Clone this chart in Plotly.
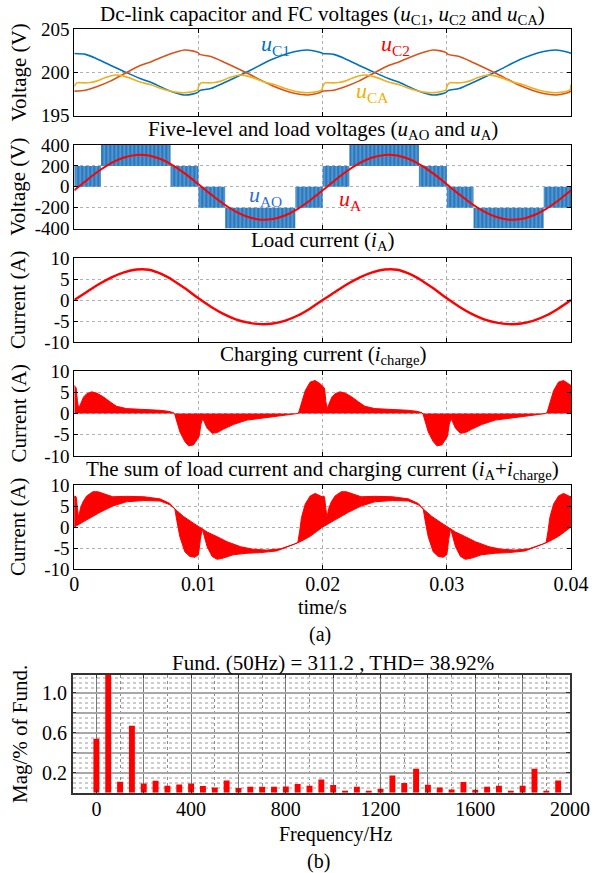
import plotly.graph_objects as go

W, H = 594, 873
FONT = "Liberation Serif"
FS = 21

# ------------------------------------------------------------------ data
# times in ms; waveforms are periodic, one measured cycle each
# Panel 1 - dc-link capacitor voltages (20 ms cycle)
vc_t_ms = [0, 0.9, 1.8, 2.9, 3.95, 5.3, 6.1, 7.65, 8.87, 9.5, 9.95, 10.1, 11.0,
           12.2, 14.1, 15.9, 17.7, 18.8, 19.6, 19.95]
uc1_cycle = [202.2, 202.1, 201.6, 200.85, 200.15, 199.3, 198.9, 197.9, 197.4, 197.5,
             197.7, 197.9, 198.15, 198.9, 200.2, 201.5, 202.4, 202.6, 202.4, 202.25]
uc2_cycle = [197.85, 197.95, 198.35, 199.0, 199.8, 200.8, 201.2, 202.1, 202.6, 202.5,
             202.3, 202.1, 201.85, 201.1, 199.8, 198.5, 197.6, 197.4, 197.6, 197.8]
# flying capacitor voltage (10 ms cycle)
uca_t_ms = [0, 0.2, 0.8, 1.3, 1.8, 2.4, 2.9, 3.5, 4.5, 5.3, 6.1, 7.3, 8.3, 9.2, 9.8, 9.95]
uca_cycle = [198.35, 198.8, 198.8, 198.85, 199.0, 199.35, 199.6, 199.7, 199.35, 198.9,
             198.6, 198.0, 197.7, 197.7, 197.9, 198.0]
uc_end = [202.2, 197.85, 198.6]  # values at t = 0.04 s

# Panel 2 - five-level voltage bands and load voltage (20 ms cycle)
uao_edges_ms = [0, 2.15, 7.75, 10.0, 12.15, 17.8, 20.0]
uao_low = [0, 200, 0, -200, -400, -200]
uao_high = [200, 400, 200, 0, -200, 0]
ua_t_ms = list(range(0, 20))
ua_cycle = [-34, 63, 153, 228, 280, 305, 299, 263, 201, 119, 24, -73, -163, -238,
            -290, -315, -309, -273, -211, -129]
ua_end = -34

# Panel 3 - load current
ia_t_ms = list(range(0, 20))
ia_cycle = [0, 1.9, 3.8, 5.4, 6.6, 7.25, 7.2, 6.2, 4.6, 2.6, 0.4, -1.6, -3.3, -4.6,
            -5.4, -5.75, -5.6, -4.9, -3.7, -2.0]
ia_end = 0

# Panel 4 - charging current envelope
ich_t_ms = [0.0, 0.15, 0.25, 0.35, 0.5, 0.75, 1.0, 1.4, 1.8, 2.35, 2.9, 3.4, 4.2, 5.6,
            6.9, 7.6, 8.0, 8.1, 8.25, 8.5, 8.9, 9.2, 9.6, 9.9, 10.05, 10.2, 10.35, 10.5,
            10.7, 11.1, 11.5, 12.0, 12.8, 13.9, 15.0, 16.3, 17.7, 18.0, 18.1, 18.3, 18.6,
            19.0, 19.4, 19.8, 19.95]
ich_cycle = [6.6, 6.0, 3.0, 1.2, 2.2, 3.9, 4.65, 5.1, 4.8, 3.9, 2.7, 1.7, 1.15, 1.0,
             0.75, 0.5, 0.2, -0.3, -1.6, -4.3, -6.6, -7.6, -7.4, -6.2, -5.4, -2.5, -1.2,
             -2.2, -3.5, -4.65, -4.5, -3.7, -2.6, -1.55, -1.16, -0.78, -0.23, 0.0, 0.5,
             2.3, 5.4, 7.4, 7.75, 7.0, 6.5]
ich_end = 6.6

# Panel 5 - sum current band (upper / lower boundaries)
sum_up_t_ms = [0.0, 0.15, 0.25, 0.35, 0.5, 0.7, 1.0, 1.5, 1.9, 2.5, 3.1, 4.2, 5.6, 6.9,
               7.7, 8.1, 8.8, 9.6, 10.1, 10.7, 11.5, 12.3, 13.4, 14.4, 15.5, 16.6, 17.7,
               18.0, 18.15, 18.3, 18.6, 19.0, 19.4, 19.8, 19.95]
sum_up_cycle = [7.4, 7.2, 4.5, 2.3, 4.5, 6.0, 7.4, 8.4, 8.4, 7.8, 7.2, 7.3, 7.2, 6.7,
                5.6, 4.3, 2.5, 0.9, 0.0, -1.2, -2.3, -3.5, -4.7, -5.3, -5.5, -5.2, -4.1,
                -3.7, -1.0, 2.3, 5.5, 7.4, 8.0, 7.4, 7.2]
sum_lo_t_ms = [0.0, 1.0, 2.07, 3.1, 4.2, 5.6, 6.9, 7.7, 8.1, 8.25, 8.5, 8.9, 9.3, 9.7,
               10.0, 10.15, 10.3, 10.5, 10.7, 11.1, 11.5, 12.0, 12.8, 13.9, 15.0, 16.3,
               17.7, 18.2, 19.0, 19.95]
sum_lo_cycle = [0.0, 1.7, 3.5, 5.0, 6.0, 6.3, 6.2, 5.3, 4.3, 1.6, -2.3, -5.9, -7.0, -7.2,
                -6.6, -3.0, -0.4, -2.5, -4.7, -7.0, -7.7, -7.4, -6.6, -6.25, -6.1, -5.7,
                -4.1, -3.5, -2.2, -0.1]
sum_end = [7.4, 0.0]

# FFT bars
harm_freq = list(range(0, 2000, 50))
harm_mag = [0.54, 100, 0.11, 0.67, 0.093, 0.12, 0.07, 0.083, 0.093, 0.067, 0.053, 0.123,
            0.047, 0.06, 0.06, 0.06, 0.063, 0.087, 0.07, 0.133, 0.077, 0.02, 0.06, 0.02,
            0.04, 0.173, 0.097, 0.24, 0.08, 0.053, 0.033, 0.107, 0.03, 0.06, 0.07, 0.02,
            0.07, 0.24, 0.013, 0.123]

time_ticks = [0, 0.01, 0.02, 0.03, 0.04]
time_ticktext = ["0", "0.01", "0.02", "0.03", "0.04"]


def tile(t_ms, v, period, n, end_v):
    xs, ys = [], []
    for k in range(n):
        xs += [(tt + k * period) / 1000.0 for tt in t_ms]
        ys += list(v)
    xs.append(n * period / 1000.0)
    ys.append(end_v)
    return xs, ys


# ------------------------------------------------------------------ layout helpers
def xdom(a, b):
    return [a / W, b / W]


def ydom(top, bottom):
    return [1 - bottom / H, 1 - top / H]


PX0, PX1 = 74.3, 571.0
panels = [(29.3, 115.7), (145.0, 228.5), (258.0, 342.0), (371.0, 456.0), (485.0, 569.0)]

fig = go.Figure()

# panel 1
for cyc, col, end in [(uc1_cycle, "#0072BD", uc_end[0]), (uc2_cycle, "#D95319", uc_end[1])]:
    x, y = tile(vc_t_ms, cyc, 20, 2, end)
    fig.add_trace(go.Scatter(x=x, y=y, mode="lines",
                             line=dict(color=col, width=1.6, shape="spline", smoothing=0.8),
                             xaxis="x", yaxis="y"))
x, y = tile(uca_t_ms, uca_cycle, 10, 4, uc_end[2])
fig.add_trace(go.Scatter(x=x, y=y, mode="lines",
                         line=dict(color="#EDB120", width=1.6, shape="spline", smoothing=0.6),
                         xaxis="x", yaxis="y"))

# panel 2 - bands
bx, by = [], []
for k in range(2):
    for i in range(len(uao_low)):
        a = (uao_edges_ms[i] + 20 * k) / 1000.0
        b = (uao_edges_ms[i + 1] + 20 * k) / 1000.0
        lo, hi = uao_low[i], uao_high[i]
        bx += [a, b, b, a, a, None]
        by += [lo, lo, hi, hi, lo, None]
fig.add_trace(go.Scatter(x=bx, y=by, mode="lines", fill="toself", line=dict(width=0, color="#2f7fc3"),
                         fillcolor="#2f7fc3",
                         fillpattern=dict(shape="|", fgcolor="#9ccaf0", bgcolor="#2a78bd", size=4, solidity=0.35),
                         xaxis="x2", yaxis="y2"))
x, y = tile(ua_t_ms, ua_cycle, 20, 2, ua_end)
fig.add_trace(go.Scatter(x=x, y=y, mode="lines", line=dict(color="#ff0000", width=2, shape="spline"),
                         xaxis="x2", yaxis="y2"))

# panel 3
x, y = tile(ia_t_ms, ia_cycle, 20, 2, ia_end)
fig.add_trace(go.Scatter(x=x, y=y, mode="lines", line=dict(color="#ff0000", width=2.4, shape="spline"),
                         xaxis="x3", yaxis="y3"))

# panel 4
x, y = tile(ich_t_ms, ich_cycle, 20, 2, ich_end)
fig.add_trace(go.Scatter(x=x, y=y, mode="lines", fill="tozeroy", fillcolor="#ff0000",
                         line=dict(color="#ff0000", width=1), xaxis="x4", yaxis="y4"))

# panel 5
xu, yu = tile(sum_up_t_ms, sum_up_cycle, 20, 2, sum_end[0])
xl, yl = tile(sum_lo_t_ms, sum_lo_cycle, 20, 2, sum_end[1])
fig.add_trace(go.Scatter(x=xu + xl[::-1] + [xu[0]], y=yu + yl[::-1] + [yu[0]], mode="lines", fill="toself",
                         fillcolor="#ff0000", line=dict(color="#ff0000", width=1), xaxis="x5", yaxis="y5"))

# bars
fig.add_trace(go.Bar(x=harm_freq, y=harm_mag, width=25, marker=dict(color="#ff0000", line=dict(width=0)),
                     xaxis="x6", yaxis="y6"))

ytickfont = dict(family=FONT, size=19, color="black")
xtickfont = dict(family=FONT, size=20, color="black")
common = dict(showline=True, linecolor="black", linewidth=1, mirror="ticks", ticks="inside", ticklen=4,
              tickcolor="black", zeroline=False, showgrid=True, gridcolor="#b0b0b0",
              griddash="dot", gridwidth=1, automargin=False)

ycfg = [
    dict(range=[195, 205], tickvals=[195, 200, 205], ticktext=["195", "200", "205"]),
    dict(range=[-400, 400], tickvals=[-400, -200, 0, 200, 400], ticktext=["-400", "-200", "0", "200", "400"]),
    dict(range=[-10, 10], tickvals=[-10, -5, 0, 5, 10], ticktext=["-10", "-5", "0", "5", "10"]),
    dict(range=[-10, 10], tickvals=[-10, -5, 0, 5, 10], ticktext=["-10", "-5", "0", "5", "10"]),
    dict(range=[-10, 10], tickvals=[-10, -5, 0, 5, 10], ticktext=["-10", "-5", "0", "5", "10"]),
]

layout = dict(width=W, height=H, autosize=False, margin=dict(l=0, r=0, t=0, b=0, pad=0, autoexpand=False),
              paper_bgcolor="white", plot_bgcolor="white", showlegend=False,
              font=dict(family=FONT, size=FS, color="black"))
for i, (top, bot) in enumerate(panels):
    n = "" if i == 0 else str(i + 1)
    layout["xaxis" + n] = dict(common, domain=xdom(PX0, PX1), range=[0, 0.04], tickvals=time_ticks,
                               ticktext=time_ticktext, showticklabels=(i == 4), ticklabelstandoff=-3,
                               tickfont=xtickfont, anchor="y" + n)
    layout["yaxis" + n] = dict(common, domain=ydom(top, bot), anchor="x" + n, tickfont=ytickfont, **ycfg[i])

# bar axes
layout["xaxis6"] = dict(showline=True, linecolor="#333", linewidth=1.5, mirror="ticks", ticks="inside",
                        ticklen=4, tickcolor="#333", tickfont=xtickfont, zeroline=False, automargin=False,
                        domain=xdom(72.7, 570.0), range=[-100, 2000], ticklabelstandoff=-2,
                        tickvals=list(range(0, 2001, 200)),
                        ticktext=[str(v) if v % 400 == 0 else "" for v in range(0, 2001, 200)],
                        showgrid=True, gridcolor="#777777", gridwidth=1,
                        minor=dict(dtick=100, tick0=0, showgrid=True, gridcolor="#8a8a8a", griddash="dot",
                                   ticks=""),
                        anchor="y6")
layout["yaxis6"] = dict(showline=True, linecolor="#333", linewidth=1.5, mirror="ticks", ticks="inside",
                        ticklen=4, tickcolor="#333", tickfont=xtickfont, zeroline=False, automargin=False,
                        domain=ydom(674.7, 792.7), range=[0, 1.18],
                        tickvals=[0.2, 0.4, 0.6, 0.8, 1.0], ticktext=["0.2", "", "0.6", "", "1.0"],
                        showgrid=True, gridcolor="#a8a8a8", gridwidth=1.5,
                        minor=dict(dtick=0.05, tick0=0, showgrid=True, gridcolor="#cccccc", griddash="dot",
                                   ticks=""),
                        anchor="x6")
fig.update_layout(**layout)


def ann(text, px, py, size=FS, color="black", angle=0, xanchor="center", yanchor="middle"):
    fig.add_annotation(text=text, x=px / W, y=1 - py / H, xref="paper", yref="paper", showarrow=False,
                       font=dict(family=FONT, size=size, color=color), textangle=angle,
                       xanchor=xanchor, yanchor=yanchor)


u = "<i>u</i>"
cx = (PX0 + PX1) / 2
ann("Dc-link capacitor and FC voltages (" + u + "<sub>C1</sub>, " + u + "<sub>C2</sub> and " + u + "<sub>CA</sub>)", cx, 15)
ann("Five-level and load voltages (" + u + "<sub>AO</sub> and " + u + "<sub>A</sub>)", cx, 130)
ann("Load current (<i>i</i><sub>A</sub>)", cx, 241)
ann("Charging current (<i>i</i><sub>charge</sub>)", cx, 355)
ann("The sum of load current and charging current (<i>i</i><sub>A</sub>+<i>i</i><sub>charge</sub>)", cx, 470)

for (top, bot), lab in zip(panels, ["Voltage (V)", "Voltage (V)", "Current (A)", "Current (A)", "Current (A)"]):
    ann(lab, 18, (top + bot) / 2, angle=-90)

ann("time/s", cx, 607, size=20)
ann("(a)", 320, 634, size=20)
ann("Fund. (50Hz) = 311.2 , THD= 38.92%", 333, 663)
ann("Frequency/Hz", 335, 834, size=20)
ann("(b)", 318, 861, size=20)
ann("Mag/% of Fund.", 20, 734, angle=-90)


def dlabel(text, t, v, xa, ya, color):
    fig.add_annotation(text=text, x=t, y=v, xref=xa, yref=ya, showarrow=False,
                       font=dict(family=FONT, size=FS + 1, color=color))


dlabel(u + "<sub>C1</sub>", 0.0162, 203.2, "x", "y", "#0072BD")
dlabel(u + "<sub>C2</sub>", 0.0259, 203.2, "x", "y", "#ff0000")
dlabel(u + "<sub>CA</sub>", 0.0240, 197.8, "x", "y", "#F2B000")
dlabel(u + "<sub>AO</sub>", 0.0154, -85, "x2", "y2", "#2f6fd6")
dlabel(u + "<sub>A</sub>", 0.0222, -130, "x2", "y2", "#ff0000")

fig.write_html("out.html", config={"displayModeBar": False},
               post_script="document.body.style.margin='0';document.body.style.overflow='hidden';")
